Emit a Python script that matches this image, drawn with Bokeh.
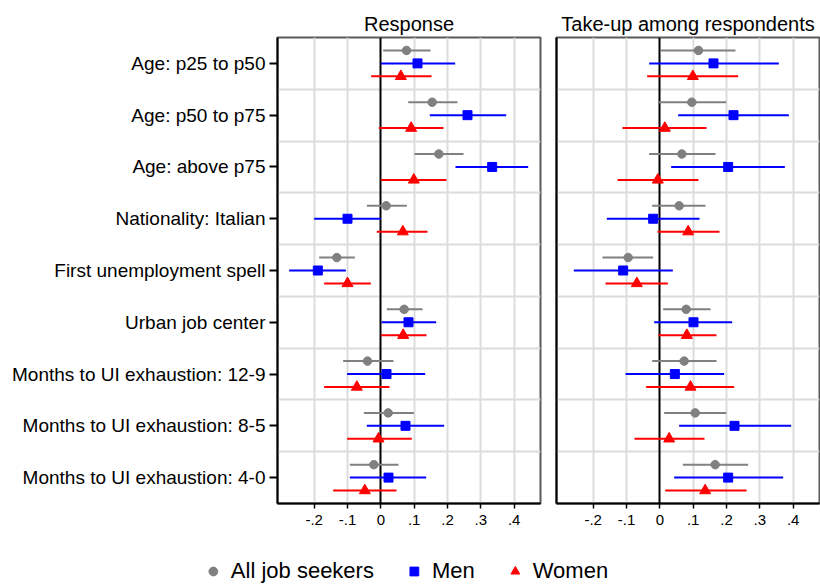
import math
from bokeh.plotting import figure
from bokeh.models import (ColumnDataSource, FixedTicker, Range1d, Grid, Legend, LegendItem)
from bokeh.layouts import row, column
from bokeh.transform import dodge
from bokeh.embed import file_html
from bokeh.resources import INLINE

# ---------------- data ----------------
categories = [
    "Age: p25 to p50",
    "Age: p50 to p75",
    "Age: above p75",
    "Nationality: Italian",
    "First unemployment spell",
    "Urban job center",
    "Months to UI exhaustion: 12-9",
    "Months to UI exhaustion: 8-5",
    "Months to UI exhaustion: 4-0",
]
panel_titles = ["Response", "Take-up among respondents"]
series_names = ["All job seekers", "Men", "Women"]

tick_values = [-0.2, -0.1, 0, 0.1, 0.2, 0.3, 0.4]
tick_labels = ["-.2", "-.1", "0", ".1", ".2", ".3", ".4"]

# Response panel
resp_all_est = [0.077, 0.154, 0.174, 0.016, -0.132, 0.070, -0.040, 0.022, -0.021]
resp_all_lo = [0.007, 0.082, 0.101, -0.042, -0.185, 0.018, -0.113, -0.051, -0.093]
resp_all_hi = [0.149, 0.230, 0.248, 0.078, -0.078, 0.125, 0.038, 0.099, 0.053]
resp_men_est = [0.110, 0.260, 0.334, -0.100, -0.189, 0.083, 0.017, 0.074, 0.023]
resp_men_lo = [0.000, 0.147, 0.224, -0.200, -0.275, 0.002, -0.101, -0.042, -0.093]
resp_men_hi = [0.223, 0.376, 0.442, 0.000, -0.105, 0.166, 0.133, 0.190, 0.136]
resp_women_est = [0.060, 0.091, 0.099, 0.066, -0.100, 0.067, -0.072, -0.007, -0.048]
resp_women_lo = [-0.029, -0.006, 0.000, -0.012, -0.170, 0.000, -0.170, -0.101, -0.143]
resp_women_hi = [0.152, 0.188, 0.197, 0.140, -0.030, 0.137, 0.026, 0.093, 0.047]

# Take-up panel
take_all_est = [0.116, 0.096, 0.066, 0.058, -0.095, 0.079, 0.073, 0.106, 0.166]
take_all_lo = [0.002, -0.005, -0.032, -0.023, -0.172, 0.010, -0.023, 0.013, 0.069]
take_all_hi = [0.227, 0.199, 0.167, 0.137, -0.020, 0.152, 0.170, 0.199, 0.265]
take_men_est = [0.161, 0.221, 0.205, -0.020, -0.110, 0.101, 0.045, 0.224, 0.205]
take_men_lo = [-0.032, 0.055, 0.034, -0.159, -0.258, -0.017, -0.103, 0.058, 0.043]
take_men_hi = [0.357, 0.387, 0.375, 0.119, 0.039, 0.217, 0.193, 0.394, 0.370]
take_women_est = [0.099, 0.015, -0.006, 0.085, -0.069, 0.081, 0.092, 0.028, 0.136]
take_women_lo = [-0.038, -0.112, -0.127, -0.007, -0.163, -0.004, -0.041, -0.076, 0.016]
take_women_hi = [0.235, 0.140, 0.116, 0.179, 0.024, 0.170, 0.223, 0.134, 0.260]

# ---------------- styles ----------------
FONT = "Liberation Sans"
series_colors = ["#808080", "#0000ff", "#ff0000"]
series_markers = ["circle", "square", "triangle"]
series_sizes = [8.5, 9, 11]
series_offsets = [0.25, 0.0, -0.25]
legend_sizes = [8, 9, 11.5]

n = len(categories)
centers = [n - i - 0.5 for i in range(n)]
boundaries = [float(k) for k in range(1, n)]

panels = [
    [(resp_all_est, resp_all_lo, resp_all_hi),
     (resp_men_est, resp_men_lo, resp_men_hi),
     (resp_women_est, resp_women_lo, resp_women_hi)],
    [(take_all_est, take_all_lo, take_all_hi),
     (take_men_est, take_men_lo, take_men_hi),
     (take_women_est, take_women_lo, take_women_hi)],
]


def make_panel(title, series, first):
    if first:
        p = figure(width=547, height=540, output_backend="svg", toolbar_location=None,
                   x_range=Range1d(-0.31, 0.479), y_range=Range1d(0, n),
                   min_border_left=277, min_border_right=7,
                   min_border_top=37, min_border_bottom=37)
    else:
        p = figure(width=273, height=540, output_backend="svg", toolbar_location=None,
                   x_range=Range1d(-0.31, 0.479), y_range=Range1d(0, n),
                   min_border_left=9, min_border_right=1,
                   min_border_top=37, min_border_bottom=37)
    p.title.text = title
    p.title.align = "center"
    p.title.text_font = FONT
    p.title.text_font_size = "20px"
    p.title.text_font_style = "normal"
    p.title.text_color = "black"
    p.title.standoff = 6

    p.outline_line_color = "#5a5a5a"
    p.outline_line_width = 2
    p.background_fill_color = "white"
    p.border_fill_color = "white"

    p.xgrid.visible = False
    p.ygrid.visible = False

    xgrid_ticks = [v for v in tick_values if v != 0]
    p.add_layout(Grid(dimension=0, ticker=FixedTicker(ticks=xgrid_ticks),
                      grid_line_color="#dcdcdc", grid_line_width=2))
    p.add_layout(Grid(dimension=1, ticker=FixedTicker(ticks=boundaries),
                      grid_line_color="#dcdcdc", grid_line_width=2))
    p.add_layout(Grid(dimension=0, ticker=FixedTicker(ticks=[0]),
                      grid_line_color="black", grid_line_width=2))

    xa = p.xaxis[0]
    xa.ticker = FixedTicker(ticks=tick_values)
    xa.major_label_overrides = {v: lab for v, lab in zip(tick_values, tick_labels)}
    xa.major_label_text_font = FONT
    xa.major_label_text_font_size = "15px"
    xa.major_label_text_color = "black"
    xa.axis_line_color = "black"
    xa.axis_line_width = 2
    xa.major_tick_line_color = "black"
    xa.major_tick_line_width = 1.5
    xa.major_tick_out = 5
    xa.major_tick_in = 0
    xa.minor_tick_line_color = None
    xa.major_label_standoff = 6

    ya = p.yaxis[0]
    ya.axis_line_color = "black"
    ya.axis_line_width = 2
    ya.minor_tick_line_color = None
    if first:
        ya.ticker = FixedTicker(ticks=centers)
        ya.major_label_overrides = {c: lab for c, lab in zip(centers, categories)}
        ya.major_label_text_font = FONT
        ya.major_label_text_font_size = "19px"
        ya.major_label_text_color = "black"
        ya.major_tick_line_color = "black"
        ya.major_tick_line_width = 2
        ya.major_tick_out = 8
        ya.major_tick_in = 0
        ya.major_label_standoff = 4
    else:
        ya.ticker = FixedTicker(ticks=[])
        ya.major_tick_line_color = None

    for (est, lo, hi), color, marker, size, off in zip(
            series, series_colors, series_markers, series_sizes, series_offsets):
        src = ColumnDataSource(dict(y=centers, est=est, lo=lo, hi=hi))
        yd = dodge("y", off, range=p.y_range)
        p.segment(x0="lo", x1="hi", y0=yd, y1=yd, source=src,
                  line_color=color, line_width=2)
        p.scatter(x="est", y=yd, source=src, marker=marker, size=size,
                  fill_color=color, line_color=color)
    return p


p1 = make_panel(panel_titles[0], panels[0], True)
p2 = make_panel(panel_titles[1], panels[1], False)

p3 = figure(width=820, height=45, output_backend="svg", toolbar_location=None,
            x_axis_type=None, y_axis_type=None,
            x_range=Range1d(0, 1), y_range=Range1d(0, 1),
            min_border_left=0, min_border_right=10,
            min_border_top=16, min_border_bottom=0)
p3.outline_line_color = None
items = []
for name, color, marker, size in zip(series_names, series_colors, series_markers, legend_sizes):
    r = p3.scatter(x=[math.nan], y=[math.nan], marker=marker, size=size,
                   fill_color=color, line_color=color)
    items.append(LegendItem(label=name, renderers=[r]))
legend = Legend(items=items, orientation="horizontal", location="center",
                label_text_font=FONT, label_text_font_size="22px",
                label_text_color="black",
                glyph_width=22, glyph_height=22, label_standoff=7,
                spacing=29, padding=0, margin=0,
                border_line_color=None, background_fill_alpha=0)
p3.add_layout(legend, "center")

layout = column(row(p1, p2), p3)

open("out.html", "w").write(file_html(layout, INLINE))
